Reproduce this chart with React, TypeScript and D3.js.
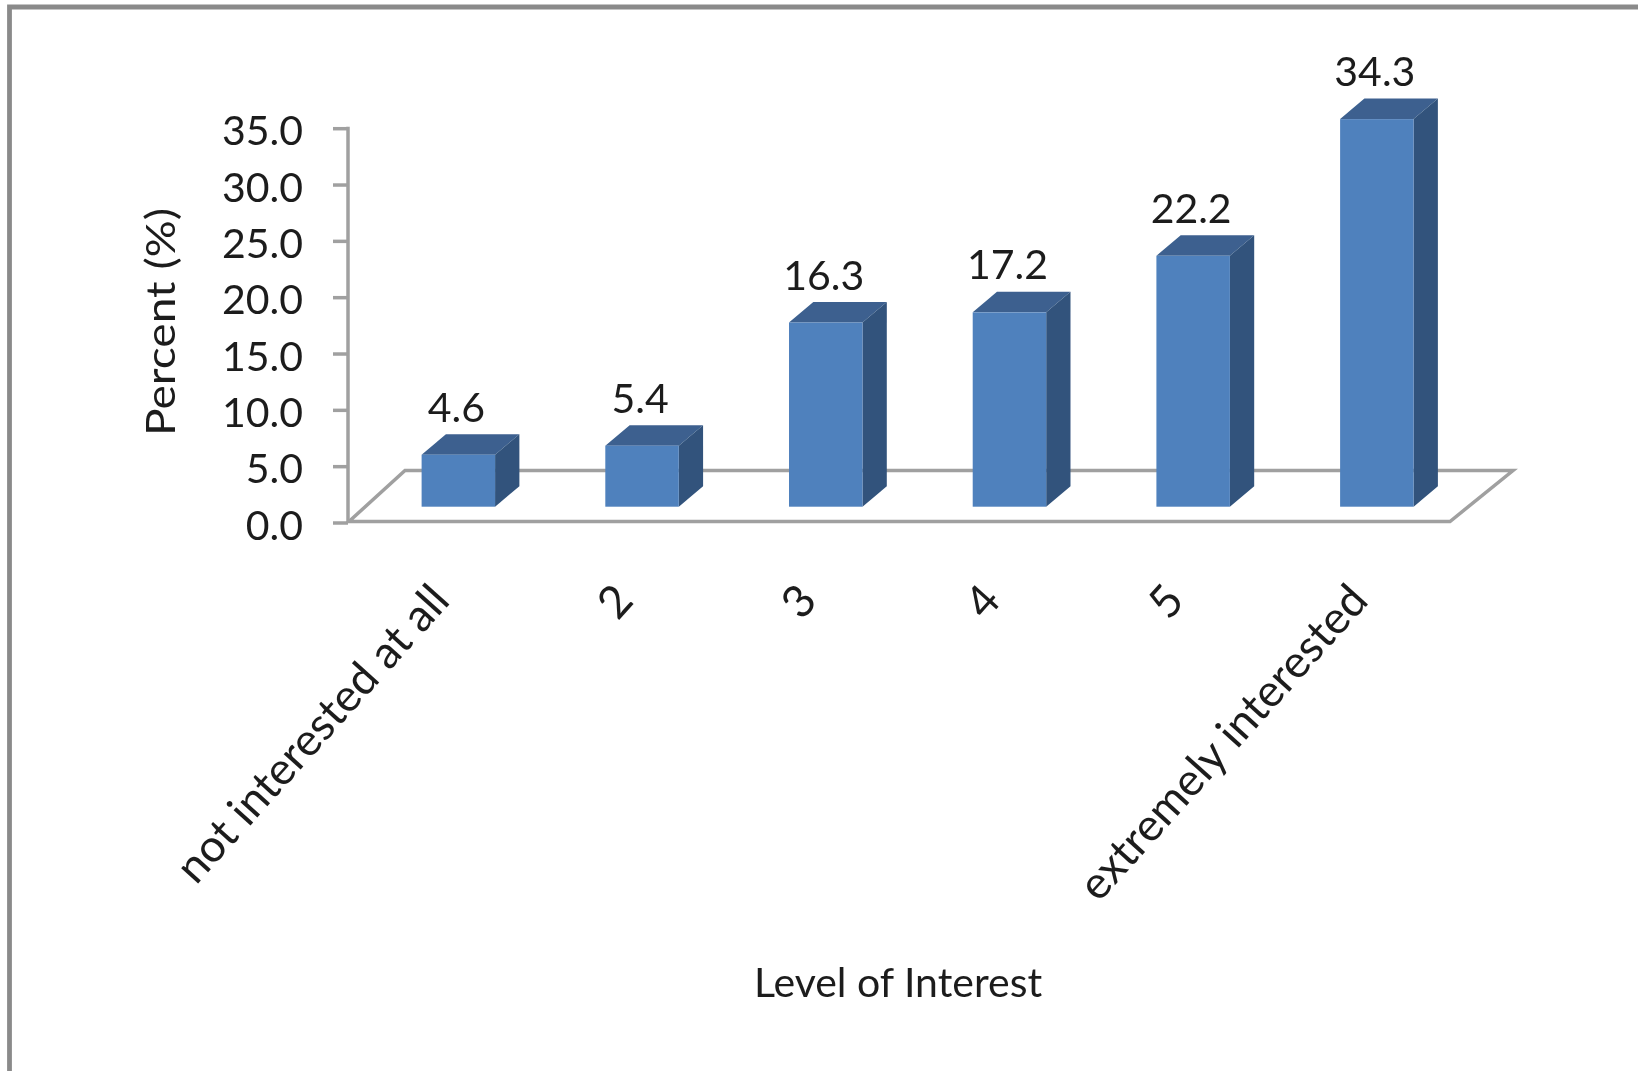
import React from "react";
import * as d3 from "d3";

const categories = ["not interested at all", "2", "3", "4", "5", "extremely interested"];
const percents = [4.6, 5.4, 16.3, 17.2, 22.2, 34.3];
const valueLabels = ["4.6", "5.4", "16.3", "17.2", "22.2", "34.3"];
const axisTicks = [0, 5, 10, 15, 20, 25, 30, 35];
const xTitle = "Level of Interest";
const yTitle = "Percent (%)";

const W = 1638, H = 1071;
const FONT = "Lato, 'Open Sans', sans-serif";
const TEXT = "#1c1c1c";
const GRID = "#a0a0a0";
const FRONT = "#4f81bd", TOP = "#3c618f", SIDE = "#30527c";
const DX = 24.3, DY = 20.5;

export default function App() {
  const x = d3.scaleBand<string>().domain(categories).range([366.5, 1468.7]).paddingInner(0.6).paddingOuter(0.3);
  const yAxis = d3.scaleLinear().domain([0, 35]).range([523, 128.7]);
  const yBar = d3.scaleLinear().domain([0, 35]).range([506.7, 111.2]);
  const bw = x.bandwidth();

  return (
    <svg width={W} height={H} viewBox={`0 0 ${W} ${H}`}
      style={{ position: "absolute", left: 0, top: 0, background: "#fff" }} fontFamily={FONT}>
      <defs>
        <filter id="soft" x="0" y="0" width="100%" height="100%" filterUnits="userSpaceOnUse">
          <feGaussianBlur stdDeviation="0.7" />
        </filter>
      </defs>
      <g filter="url(#soft)">
        {/* outer frame */}
        <path d={`M9.5,${H + 5} V7 H${W + 5}`} fill="none" stroke="#8a8a8a" strokeWidth={4.8} />

        {/* floor */}
        <path d="M349,521.5 H1450 L1513,470.5 H405 Z" fill="#fff" stroke={GRID} strokeWidth={3.5} />

        {/* y axis */}
        <line x1={348} x2={348} y1={yAxis(35) - 2} y2={yAxis(0)} stroke={GRID} strokeWidth={3.5} />
        {axisTicks.map((t) => (
          <g key={t}>
            <line x1={333} x2={348} y1={yAxis(t)} y2={yAxis(t)} stroke={GRID} strokeWidth={3.5} />
            <text x={303} y={yAxis(t) + 16.5} textAnchor="end" fontSize={41} fill={TEXT}>{t.toFixed(1)}</text>
          </g>
        ))}
        <text transform={`translate(175,322) rotate(-90)`} textAnchor="middle" fontSize={41} fill={TEXT}
          textLength={228} lengthAdjust="spacingAndGlyphs">{yTitle}</text>

        {/* bars */}
        {categories.map((c, i) => {
          const x0 = x(c)!;
          const x1 = x0 + bw;
          const yt = yBar(percents[i]);
          const yb = yBar(0);
          return (
            <g key={c}>
              <path d={`M${x0},${yt} L${x0 + DX},${yt - DY} H${x1 + DX} L${x1},${yt} Z`} fill={TOP} />
              <path d={`M${x1},${yt} L${x1 + DX},${yt - DY} V${yb - DY} L${x1},${yb} Z`} fill={SIDE} />
              <rect x={x0} y={yt} width={bw} height={yb - yt} fill={FRONT} />
              <text x={x0 + bw / 2 - 2} y={yt - 33} textAnchor="middle" fontSize={41} fill={TEXT}>{valueLabels[i]}</text>
              <text transform={`translate(${x0 + bw / 2 - 18},${592}) rotate(-48)`} textAnchor="end" dy={15}
                fontSize={45} fill={TEXT}>{c}</text>
            </g>
          );
        })}

        <text x={898} y={997} textAnchor="middle" fontSize={41} fill={TEXT}>{xTitle}</text>
      </g>
    </svg>
  );
}
